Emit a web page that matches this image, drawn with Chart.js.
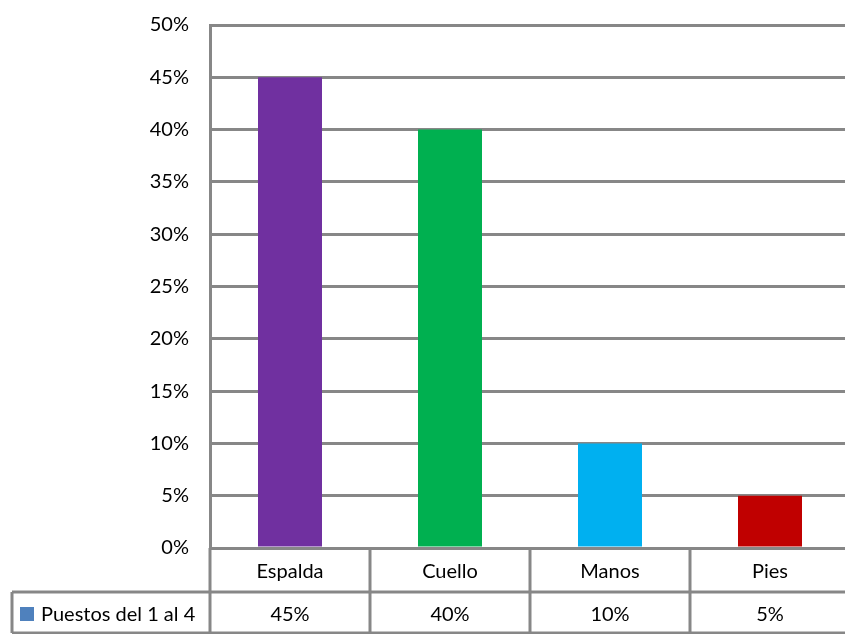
<!DOCTYPE html>
<html>
<head>
<meta charset="utf-8">
<script src="https://cdn.jsdelivr.net/npm/chart.js@4"></script>
<style>
  body { margin: 0; background: #fff; overflow: hidden; }
  #wrap { width: 845px; height: 634px; overflow: hidden; }
</style>
</head>
<body>
<div id="wrap"><canvas id="grafico" width="850" height="634"></canvas></div>
<script>
// datos del gráfico
const categorias = ["Espalda", "Cuello", "Manos", "Pies"];
const valores = [45, 40, 10, 5];
const colores = ["#7030a0", "#00b050", "#00b0f0", "#c00000"];
const serie = "Puestos del 1 al 4";
const ticksY = [0, 5, 10, 15, 20, 25, 30, 35, 40, 45, 50];

const gris = "#878787";
const fuente = "Lato, 'Noto Sans', sans-serif";

// tabla de datos debajo del eje X
const tablaDatos = {
  id: "tablaDatos",
  afterDraw(chart) {
    const ctx = chart.ctx;
    const area = chart.chartArea;
    const x = chart.scales.x;
    const ancho = (area.right - area.left) / categorias.length;
    const fila1 = area.bottom;
    const fila2 = fila1 + 44;
    const fin = fila2 + 41;
    const izq = 12;

    ctx.save();
    ctx.strokeStyle = gris;
    ctx.lineWidth = 3;
    ctx.beginPath();
    ctx.moveTo(izq, fila2); ctx.lineTo(area.right, fila2);
    ctx.moveTo(izq, fin); ctx.lineTo(area.right, fin);
    ctx.moveTo(izq, fila2); ctx.lineTo(izq, fin);
    for (let i = 0; i <= categorias.length; i++) {
      const xl = area.left + ancho * i;
      ctx.moveTo(xl, fila1); ctx.lineTo(xl, fin);
    }
    ctx.stroke();

    ctx.fillStyle = "#000";
    ctx.font = "20px " + fuente;
    ctx.textAlign = "center";
    ctx.textBaseline = "middle";
    categorias.forEach((c, i) => {
      const cx = x.getPixelForValue(i);
      ctx.fillText(c, cx, (fila1 + fila2) / 2 + 2);
      ctx.fillText(valores[i] + "%", cx, (fila2 + fin) / 2 + 2);
    });

    // leyenda de la serie
    ctx.fillStyle = "#4f81bd";
    ctx.fillRect(20, 607, 14, 14);
    ctx.fillStyle = "#000";
    ctx.textAlign = "left";
    ctx.fillText(serie, 41, (fila2 + fin) / 2 + 2);
    ctx.restore();
  }
};

new Chart(document.getElementById("grafico"), {
  type: "bar",
  data: {
    labels: categorias,
    datasets: [{
      label: serie,
      data: valores,
      backgroundColor: colores,
      barPercentage: 0.4,
      categoryPercentage: 1
    }]
  },
  options: {
    responsive: false,
    animation: false,
    layout: { padding: { top: 25, bottom: 86, left: 0, right: 0 } },
    plugins: {
      legend: { display: false },
      tooltip: { enabled: false }
    },
    scales: {
      x: { display: false },
      y: {
        min: 0,
        max: 50,
        afterFit: (s) => {
          s.width = 210;
          s.paddingTop = 0;
          s.paddingBottom = 0;
        },
        afterBuildTicks: (s) => { s.ticks = ticksY.map(v => ({ value: v })); },
        ticks: {
          padding: 21,
          color: "#000",
          font: { size: 20, family: fuente },
          callback: (v) => v + "%"
        },
        grid: { color: gris, lineWidth: 3, drawTicks: false },
        border: { color: gris, width: 3 }
      }
    }
  },
  plugins: [tablaDatos]
});
</script>
</body>
</html>
